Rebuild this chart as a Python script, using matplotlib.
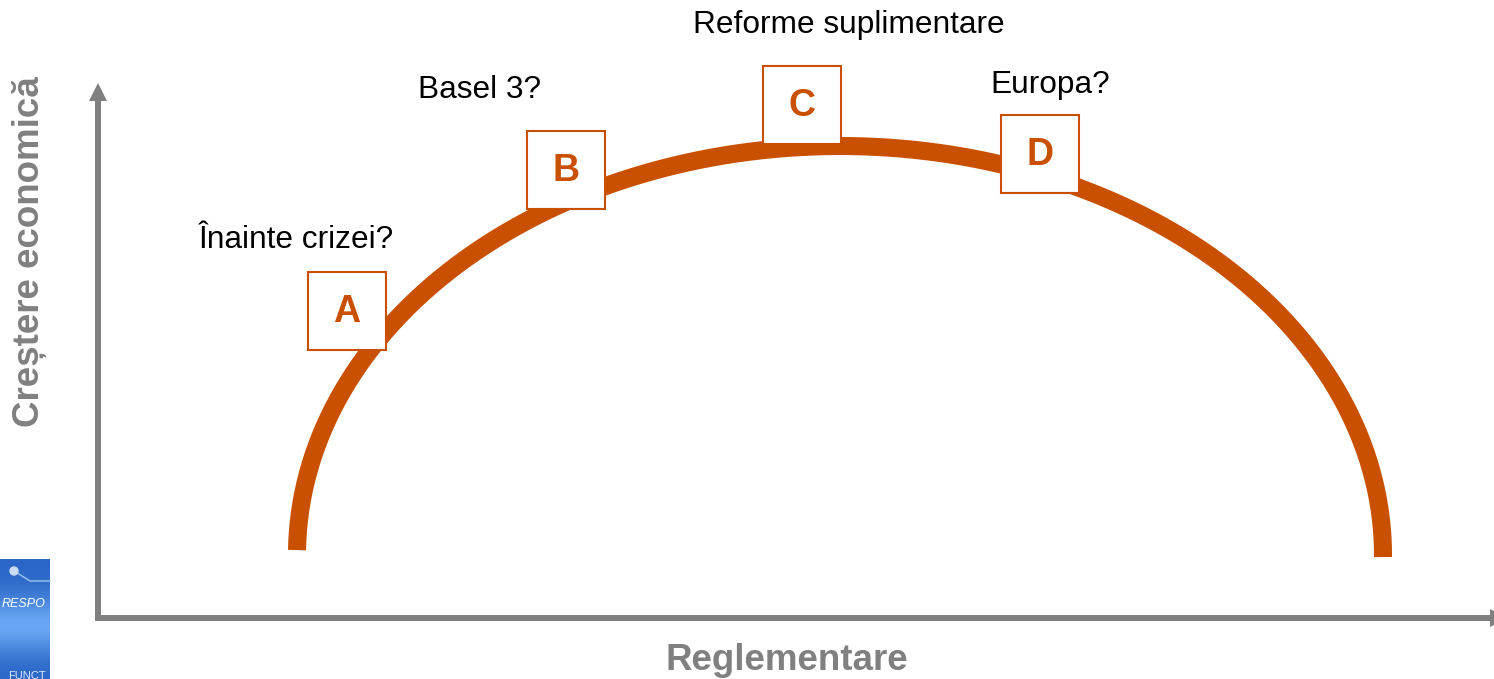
import numpy as np
import matplotlib
matplotlib.use("Agg")
import matplotlib.pyplot as plt
from matplotlib.patches import Rectangle, FancyArrow

plt.rcParams['font.family'] = ['Liberation Sans', 'DejaVu Sans']

# ---- data ----
letters = ['A', 'B', 'C', 'D']
captions = ['Înainte crizei?', 'Basel 3?', 'Reforme suplimentare', 'Europa?']
x_label = 'Reglementare'
y_label = 'Creștere economică'

# ---- layout (pixel space) ----
W, H = 1494, 679
box_centers = [(347, 311), (566, 170), (802, 105), (1040, 154)]
box_size = 78
caption_pos = [(296, 240), (479, 90), (849, 25), (1050, 85)]

ORANGE = '#C85000'
GRAY = '#808080'

fig = plt.figure(figsize=(W / 100, H / 100), dpi=100)
ax = fig.add_axes([0, 0, 1, 1])
ax.set_xlim(0, W)
ax.set_ylim(H, 0)
ax.axis('off')

# logo fragment bottom-left
g = np.linspace(0, 1, 120)[:, None] * np.ones((1, 50))
bump = np.exp(-((g - 0.55) ** 2) / 0.06)
img = np.zeros((120, 50, 3))
img[..., 0] = 0.16 + 0.25 * bump
img[..., 1] = 0.40 + 0.25 * bump
img[..., 2] = 0.78 + 0.17 * bump
img = np.clip(img, 0, 1)
ax.imshow(img, extent=[0, 50, 679, 559], aspect='auto', zorder=1)
ax.plot([14, 30, 50], [571, 581, 581], color='#9fc3ee', lw=1, zorder=2)
ax.add_patch(plt.Circle((14, 571), 4, color='#c9dcf5', zorder=2))
clip = Rectangle((0, 559), 50, 120, transform=ax.transData)
t = ax.text(2, 604, 'RESPO', color='white', fontsize=9, style='italic',
            ha='left', va='center', zorder=3)
t.set_clip_path(clip)
t2 = ax.text(8, 676, 'FUNCT', color='#dde8f8', fontsize=8,
             ha='left', va='center', zorder=3)
t2.set_clip_path(clip)

# axes arrows
ax.add_patch(FancyArrow(98, 621, 0, 83 - 621, width=6, head_width=18, head_length=18,
                        length_includes_head=True, color=GRAY, lw=0, zorder=2))
ax.add_patch(FancyArrow(95, 618, 1508 - 95, 0, width=6, head_width=18, head_length=18,
                        length_includes_head=True, color=GRAY, lw=0, zorder=2,
                        clip_on=False))

# axis labels
ax.text(787, 660, x_label, color=GRAY, fontsize=26.5, fontweight='bold',
        ha='center', va='center')
ax.text(30, 252, y_label, color=GRAY, fontsize=26.5, fontweight='bold',
        ha='center', va='center', rotation=90)

# arc (half ellipse)
cx, cy, a, b = 840, 555, 543, 409
tt = np.linspace(np.pi - 0.012, -0.005, 400)
ax.plot(cx + a * np.cos(tt), cy - b * np.sin(tt), color=ORANGE, lw=13,
        solid_capstyle='butt', zorder=3)

# boxes with letters
for (bx, by), letter in zip(box_centers, letters):
    ax.add_patch(Rectangle((bx - box_size / 2, by - box_size / 2), box_size, box_size,
                           facecolor='white', edgecolor=ORANGE, lw=1.5, zorder=4))
    ax.text(bx, by + 1, letter, color=ORANGE, fontsize=27, fontweight='bold',
            ha='center', va='center', zorder=5)

# captions
for (px, py), cap in zip(caption_pos, captions):
    ax.text(px, py, cap, color='black', fontsize=22.8, ha='center', va='center')

fig.savefig('out.png', dpi=100)
